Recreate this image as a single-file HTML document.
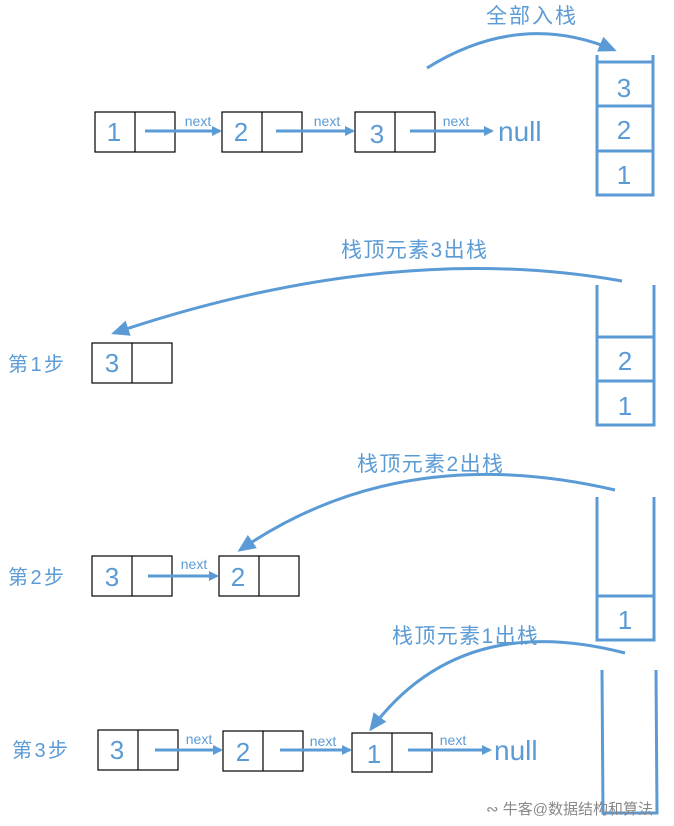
<!DOCTYPE html>
<html><head><meta charset="utf-8"><style>
html,body{margin:0;padding:0;background:#fff;}
svg{display:block;}
text{font-family:"Liberation Sans","Noto Sans CJK SC",sans-serif;fill:#5b9bd5;}
</style></head><body>
<svg width="674" height="826" viewBox="0 0 674 826" xmlns="http://www.w3.org/2000/svg">
<defs>
<marker id="ah" markerWidth="10" markerHeight="10" refX="8" refY="5" orient="auto" markerUnits="userSpaceOnUse">
<path d="M0,0 L10,5 L0,10 z" fill="#5b9bd5"/></marker>
<marker id="ab" markerWidth="18" markerHeight="16" refX="15" refY="8" orient="auto" markerUnits="userSpaceOnUse">
<path d="M0,0 L18,8 L0,16 z" fill="#5b9bd5"/></marker>
</defs>
<g fill="none" stroke="#000" stroke-width="1.2">
<rect x="95" y="112" width="80" height="40"/><line x1="135" y1="112" x2="135" y2="152"/>
<rect x="222" y="112" width="80" height="40"/><line x1="262" y1="112" x2="262" y2="152"/>
<rect x="355" y="112" width="80" height="40"/><line x1="395" y1="112" x2="395" y2="152"/>
<rect x="92" y="343" width="80" height="40"/><line x1="132" y1="343" x2="132" y2="383"/>
<rect x="92" y="556" width="80" height="40"/><line x1="132" y1="556" x2="132" y2="596"/>
<rect x="219" y="556" width="80" height="40"/><line x1="259" y1="556" x2="259" y2="596"/>
<rect x="98" y="730" width="80" height="40"/><line x1="138" y1="730" x2="138" y2="770"/>
<rect x="223" y="731" width="80" height="40"/><line x1="263" y1="731" x2="263" y2="771"/>
<rect x="352" y="733" width="80" height="39"/><line x1="392" y1="733" x2="392" y2="772"/>
</g>
<g stroke="#5b9bd5" stroke-width="3" fill="none">
<line x1="145" y1="131" x2="220" y2="131" marker-end="url(#ah)"/>
<line x1="276" y1="131" x2="353" y2="131" marker-end="url(#ah)"/>
<line x1="410" y1="131" x2="492" y2="131" marker-end="url(#ah)"/>
<line x1="148" y1="576" x2="217" y2="576" marker-end="url(#ah)"/>
<line x1="155" y1="750" x2="221" y2="750" marker-end="url(#ah)"/>
<line x1="280" y1="750" x2="350" y2="750" marker-end="url(#ah)"/>
<line x1="408" y1="750" x2="490" y2="750" marker-end="url(#ah)"/>
<path d="M597,55 V195 H653 V55"/><line x1="597" y1="62" x2="652" y2="62"/><line x1="597" y1="106" x2="652" y2="106"/><line x1="597" y1="151" x2="652" y2="151"/>
<path d="M597,285 V425 H654 V285"/><line x1="597" y1="337" x2="653" y2="337"/><line x1="597" y1="381" x2="653" y2="381"/>
<path d="M597,497 V640 H654 V497"/><line x1="597" y1="596" x2="653" y2="596"/>
<path d="M602,670 L603,813 H657 L656,670"/>
<path d="M427,68 Q520,10 614,50" marker-end="url(#ab)"/>
<path d="M622,281 Q390,240 114,333" marker-end="url(#ab)"/>
<path d="M615,490 Q400,440 240,550" marker-end="url(#ab)"/>
<path d="M625,653 Q460,610 371,729" marker-end="url(#ab)"/>
</g>
<g font-size="26" text-anchor="middle">
<text x="114" y="141">1</text><text x="241" y="141">2</text><text x="377" y="143">3</text>
<text x="624" y="97">3</text><text x="624" y="139">2</text><text x="624" y="184">1</text>
<text x="112" y="372">3</text>
<text x="625" y="370">2</text><text x="625" y="415">1</text>
<text x="112" y="586">3</text><text x="238" y="586">2</text>
<text x="625" y="629">1</text>
<text x="117" y="759">3</text><text x="243" y="761">2</text><text x="374" y="763">1</text>
</g>
<g font-size="14" text-anchor="middle">
<text x="198" y="126">next</text><text x="327" y="126">next</text><text x="456" y="126">next</text>
<text x="194" y="569">next</text>
<text x="199" y="744">next</text><text x="323" y="746">next</text><text x="453" y="745">next</text>
</g>
<text x="498" y="141" font-size="28">null</text>
<text x="494" y="760" font-size="28">null</text>
<g font-size="21">
<text x="486" y="23" textLength="90">全部入栈</text>
<text x="341" y="257" textLength="146">栈顶元素3出栈</text>
<text x="357" y="471" textLength="146">栈顶元素2出栈</text>
<text x="392" y="643" textLength="146">栈顶元素1出栈</text>
</g>
<g font-size="20">
<text x="8" y="371" textLength="56">第1步</text>
<text x="8" y="584" textLength="56">第2步</text>
<text x="12" y="757" textLength="56">第3步</text>
</g>
<text x="486" y="814" font-size="15" style="fill:#888">∾ 牛客@数据结构和算法</text>
</svg>
</body></html>
